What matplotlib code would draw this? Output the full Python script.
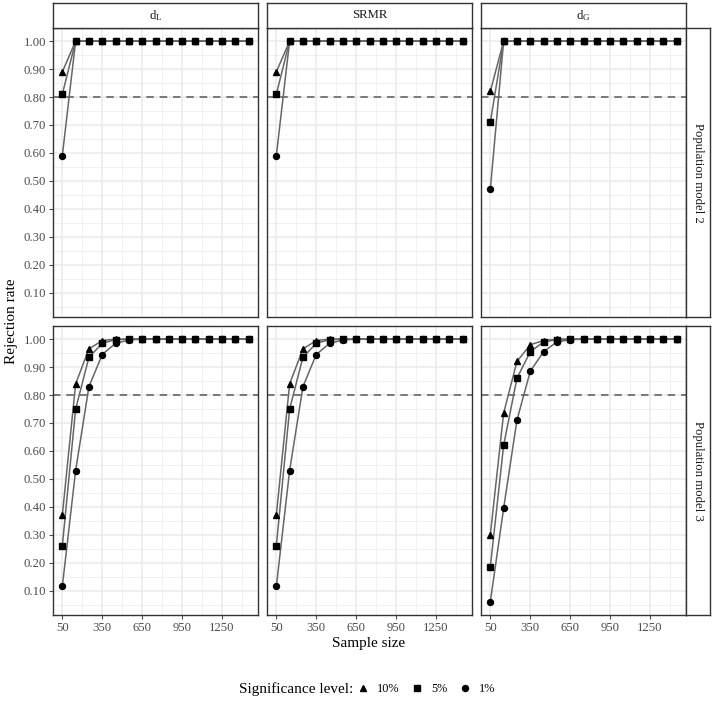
import matplotlib
matplotlib.use("Agg")
import matplotlib.pyplot as plt
from matplotlib.lines import Line2D

plt.rcParams['font.family'] = ['Liberation Serif', 'DejaVu Serif']
plt.rcParams['mathtext.default'] = 'regular'

sample_sizes = [50, 150, 250, 350, 450, 550, 650, 750, 850, 950, 1050, 1150, 1250, 1350, 1450]
indices = ['d$_L$', 'SRMR', 'd$_G$']
models = ['Population model 2', 'Population model 3']
levels = ['10%', '5%', '1%']
level_markers = ['^', 's', 'o']
level_msizes = [4.6, 4.0, 4.3]

ones = [1.0] * 14
# Population model 2
m2_dL_10 = [0.89] + ones
m2_dL_5 = [0.81] + ones
m2_dL_1 = [0.59] + ones
m2_srmr_10 = [0.89] + ones
m2_srmr_5 = [0.81] + ones
m2_srmr_1 = [0.59] + ones
m2_dG_10 = [0.82] + ones
m2_dG_5 = [0.71] + ones
m2_dG_1 = [0.47] + ones
# Population model 3
m3_dL_10 = [0.37, 0.84, 0.965, 0.995, 1.0, 1.0, 1.0, 1.0, 1.0, 1.0, 1.0, 1.0, 1.0, 1.0, 1.0]
m3_dL_5 = [0.26, 0.75, 0.935, 0.985, 0.998, 1.0, 1.0, 1.0, 1.0, 1.0, 1.0, 1.0, 1.0, 1.0, 1.0]
m3_dL_1 = [0.115, 0.53, 0.83, 0.945, 0.985, 0.997, 1.0, 1.0, 1.0, 1.0, 1.0, 1.0, 1.0, 1.0, 1.0]
m3_srmr_10 = [0.37, 0.84, 0.965, 0.995, 1.0, 1.0, 1.0, 1.0, 1.0, 1.0, 1.0, 1.0, 1.0, 1.0, 1.0]
m3_srmr_5 = [0.26, 0.75, 0.935, 0.985, 0.998, 1.0, 1.0, 1.0, 1.0, 1.0, 1.0, 1.0, 1.0, 1.0, 1.0]
m3_srmr_1 = [0.115, 0.53, 0.83, 0.945, 0.985, 0.997, 1.0, 1.0, 1.0, 1.0, 1.0, 1.0, 1.0, 1.0, 1.0]
m3_dG_10 = [0.30, 0.735, 0.92, 0.98, 0.995, 1.0, 1.0, 1.0, 1.0, 1.0, 1.0, 1.0, 1.0, 1.0, 1.0]
m3_dG_5 = [0.185, 0.62, 0.86, 0.955, 0.99, 0.998, 1.0, 1.0, 1.0, 1.0, 1.0, 1.0, 1.0, 1.0, 1.0]
m3_dG_1 = [0.06, 0.395, 0.71, 0.885, 0.955, 0.99, 0.998, 1.0, 1.0, 1.0, 1.0, 1.0, 1.0, 1.0, 1.0]

data = [
    [[m2_dL_10, m2_dL_5, m2_dL_1], [m2_srmr_10, m2_srmr_5, m2_srmr_1], [m2_dG_10, m2_dG_5, m2_dG_1]],
    [[m3_dL_10, m3_dL_5, m3_dL_1], [m3_srmr_10, m3_srmr_5, m3_srmr_1], [m3_dG_10, m3_dG_5, m3_dG_1]],
]

xticks = [50, 350, 650, 950, 1250]
xminor = [200, 500, 800, 1100, 1400]
yticks = [0.1, 0.2, 0.3, 0.4, 0.5, 0.6, 0.7, 0.8, 0.9, 1.0]
yminor = [0.05, 0.15, 0.25, 0.35, 0.45, 0.55, 0.65, 0.75, 0.85, 0.95]

W, H = 713, 701
fig = plt.figure(figsize=(W / 100, H / 100), dpi=100)

def px(x0, y0, x1, y1):
    return [x0 / W, 1 - y1 / H, (x1 - x0) / W, (y1 - y0) / H]

col_x = [(53, 258), (267, 472), (481, 686)]
row_y = [(28, 317), (326, 615)]
border_col = '#333333'
tick_col = '#4d4d4d'

for r in range(2):
    for c in range(3):
        x0, x1 = col_x[c]
        y0, y1 = row_y[r]
        ax = fig.add_axes(px(x0, y0, x1, y1))
        ax.set_xlim(-20, 1520)
        ax.set_ylim(0.013, 1.047)
        for v in xminor:
            ax.axvline(v, color='#efefef', lw=0.6, zorder=0)
        for v in yminor:
            ax.axhline(v, color='#efefef', lw=0.6, zorder=0)
        for v in xticks:
            ax.axvline(v, color='#ebebeb', lw=1.1, zorder=0)
        for v in yticks:
            ax.axhline(v, color='#ebebeb', lw=1.1, zorder=0)
        ax.axhline(0.8, color='#666666', lw=1.2, ls=(0, (4.5, 3.5)), zorder=1)
        for k in range(3):
            ax.plot(sample_sizes, data[r][c][k], color='#666666', lw=1.1, zorder=2)
        for k in range(3):
            ax.plot(sample_sizes, data[r][c][k], ls='none', marker=level_markers[k],
                    color='black', ms=level_msizes[k], zorder=3)
        ax.set_xticks(xticks)
        ax.set_yticks(yticks)
        ax.tick_params(length=3, width=0.8, color=tick_col, labelcolor=tick_col,
                       labelsize=9.2, pad=2)
        if r == 1:
            ax.set_xticklabels([str(v) for v in xticks])
        else:
            ax.set_xticklabels([])
            ax.tick_params(axis='x', length=0)
        if c == 0:
            ax.set_yticklabels(['%.2f' % v for v in yticks])
        else:
            ax.set_yticklabels([])
            ax.tick_params(axis='y', length=0)
        for s in ax.spines.values():
            s.set_color(border_col)
            s.set_linewidth(1.0)
        if r == 0:
            sax = fig.add_axes(px(x0, 3, x1, 28))
            sax.set_xticks([]); sax.set_yticks([])
            for s in sax.spines.values():
                s.set_color(border_col); s.set_linewidth(1.0)
            sax.text(0.5, 0.5, indices[c], ha='center', va='center', fontsize=9.2,
                     color='#1a1a1a', transform=sax.transAxes)
        if c == 2:
            sax = fig.add_axes(px(686, y0, 710, y1))
            sax.set_xticks([]); sax.set_yticks([])
            for s in sax.spines.values():
                s.set_color(border_col); s.set_linewidth(1.0)
            sax.text(0.5, 0.5, models[r], ha='center', va='center', fontsize=9.2,
                     rotation=270, color='#1a1a1a', transform=sax.transAxes)

fig.text(369 / W, 1 - 644 / H, 'Sample size', ha='center', va='center', fontsize=11)
fig.text(12 / W, 1 - 321 / H, 'Rejection rate', ha='center', va='center', fontsize=11,
         rotation=90)

fig.text(239 / W, 1 - 689 / H, 'Significance level:', ha='left', va='center', fontsize=11)
handles = [Line2D([], [], ls='none', marker=m, color='black', ms=s)
           for m, s in zip(level_markers, level_msizes)]
fig.legend(handles, levels, loc='center left', bbox_to_anchor=(357 / W, 1 - 689 / H),
           ncol=3, frameon=False, fontsize=8.8, handlelength=1.0, handletextpad=0.6,
           columnspacing=1.0, borderaxespad=0, borderpad=0)

fig.savefig('out.png', dpi=100)
